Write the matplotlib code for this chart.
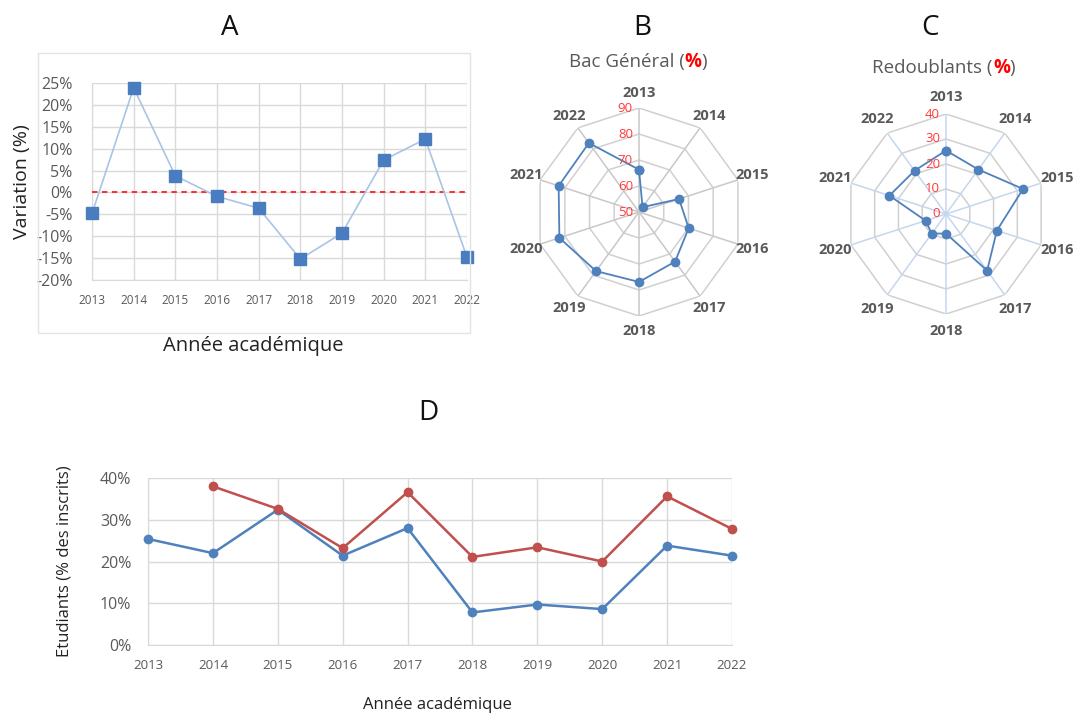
import numpy as np
import matplotlib
matplotlib.use("Agg")
import matplotlib.pyplot as plt
from matplotlib.patches import Rectangle

plt.rcParams['font.family'] = ['Open Sans', 'DejaVu Sans']

years = [2013, 2014, 2015, 2016, 2017, 2018, 2019, 2020, 2021, 2022]
variation = [-4.8, 23.9, 3.8, -0.9, -3.6, -15.2, -9.3, 7.4, 12.2, -14.8]
bac_general = [66.3, 52.3, 66.2, 70.1, 73.6, 76.9, 78.1, 82.2, 82.5, 82.8]
redoublants = [25.4, 22.0, 32.4, 21.4, 28.0, 7.8, 9.7, 8.6, 23.8, 21.4]
d_blue = [25.4, 22.0, 32.4, 21.4, 28.0, 7.8, 9.7, 8.6, 23.8, 21.4]
d_red_years = [2014, 2015, 2016, 2017, 2018, 2019, 2020, 2021, 2022]
d_red = [38.0, 32.6, 23.2, 36.6, 21.1, 23.4, 20.0, 35.6, 27.8]
a_yticks = [-20, -15, -10, -5, 0, 5, 10, 15, 20, 25]
b_rticks = [50, 60, 70, 80, 90]
c_rticks = [0, 10, 20, 30, 40]
d_yticks = [0, 10, 20, 30, 40]

W, H = 1073, 715
fig = plt.figure(figsize=(W / 100, H / 100), dpi=100)
renderer = fig.canvas.get_renderer()

def fx(px):
    return px / W

def fy(py):
    return 1 - py / H

GRID = '#D9D9D9'
TXT = '#595959'
BLUE = '#4F81BD'

# ---------- Panel A ----------
fig.patches.append(Rectangle((fx(38), fy(333)), fx(470) - fx(38), fy(53) - fy(333),
                             transform=fig.transFigure, fill=False, ec='#E3E3E3', lw=1))
axA = fig.add_axes([fx(92), fy(280), fx(467) - fx(92), fy(83) - fy(280)])
axA.plot(years, variation, color='#A9C4E4', lw=1.2, marker='s', ms=8,
         mfc='#4A7DC0', mec='#4A7DC0', clip_on=False, zorder=4)
axA.axhline(0, color='#FF2020', ls='--', lw=1.3, dashes=(3, 2.5), zorder=3)
axA.set_xlim(2013, 2022)
axA.set_ylim(-20, 25)
axA.set_yticks(a_yticks)
axA.set_yticklabels([f'{v}%' for v in a_yticks])
axA.set_xticks(years)
axA.set_xticklabels([str(y) for y in years])
axA.grid(True, color=GRID, lw=1)
axA.set_axisbelow(True)
for s in ['top', 'right']:
    axA.spines[s].set_visible(False)
for s in ['left', 'bottom']:
    axA.spines[s].set_color(GRID)
axA.tick_params(axis='both', length=0, colors=TXT)
axA.tick_params(axis='y', labelsize=11.5, pad=14)
axA.tick_params(axis='x', labelsize=8.5, pad=10)
axA.set_ylabel('Variation (%)', fontsize=14, color='#222222')
axA.yaxis.set_label_coords((31 - 92) / (467 - 92), 0.5)
fig.text(fx(253), fy(346), 'Année académique', fontsize=14.5, color='#222222',
         ha='center', va='center')
fig.text(fx(230), fy(28), 'A', fontsize=20, color='#111111', ha='center', va='center')


def title_pct(cx, cy, left, right, size=13.5):
    parts = [(left, TXT, 'normal'), ('%', '#FF0000', 'bold'), (right, TXT, 'normal')]
    widths = []
    for s, c, w in parts:
        t = fig.text(0, 0, s, fontsize=size, fontweight=w)
        widths.append(t.get_window_extent(renderer).width)
        t.remove()
    total = sum(widths)
    x = cx - total / 2
    for (s, c, w), wd in zip(parts, widths):
        fig.text(fx(x), fy(cy), s, fontsize=size, color=c, fontweight=w,
                 ha='left', va='center')
        x += wd


# ---------- Radar helper ----------
def radar(cx, cy, R, values, rticks, spoke_color, lab_r):
    ax = fig.add_axes([fx(cx - R), fy(cy + R), 2 * R / W, 2 * R / H], projection='polar')
    n = len(years)
    theta = np.linspace(0, 2 * np.pi, n, endpoint=False)
    ax.set_theta_zero_location('N')
    ax.set_theta_direction(-1)
    rmin, rmax = rticks[0], rticks[-1]
    ax.set_ylim(rmin, rmax)
    ax.grid(False)
    ax.spines['polar'].set_visible(False)
    ax.set_xticks([])
    ax.set_yticks([])
    ax.patch.set_alpha(0)
    tc = np.append(theta, theta[0])
    for r in rticks[1:]:
        ax.plot(tc, [r] * len(tc), color='#D0D0D0', lw=1.1, zorder=1)
    for t in theta:
        ax.plot([t, t], [rmin, rmax], color=spoke_color, lw=1.1, zorder=1)
    vals = list(values) + [values[0]]
    ax.plot(tc, vals, color=BLUE, lw=1.3, marker='o', ms=6, mfc=BLUE, mec=BLUE, zorder=3)
    for t, y in zip(theta, years):
        ax.text(t, rmin + (rmax - rmin) * lab_r, str(y), ha='center', va='center',
                fontsize=10.5, fontweight='bold', color=TXT)
    for r in rticks:
        frac = (r - rmin) / (rmax - rmin)
        py = cy - frac * R
        fig.text(fx(cx - 6), fy(py), str(r), fontsize=9.5, color='#FF3B3B',
                 ha='right', va='center')
    return ax

radar(639, 212, 104, bac_general, b_rticks, '#C8C8C8', 1.14)
title_pct(638, 62, 'Bac Général (', ')')
fig.text(fx(642), fy(28), 'B', fontsize=20, color='#111111', ha='center', va='center')
radar(946, 214, 100, redoublants, c_rticks, '#C5D7EE', 1.17)
title_pct(944, 68, 'Redoublants (', ')')
fig.text(fx(930), fy(28), 'C', fontsize=20, color='#111111', ha='center', va='center')

# ---------- Panel D ----------
axD = fig.add_axes([fx(148), fy(645), fx(732) - fx(148), fy(478) - fy(645)])
axD.plot(years, d_blue, color=BLUE, lw=1.8, marker='o', ms=6, clip_on=False, zorder=4)
axD.plot(d_red_years, d_red, color='#C0504D', lw=1.8, marker='o', ms=6, clip_on=False, zorder=4)
axD.set_xlim(2013, 2022)
axD.set_ylim(0, 40)
axD.set_yticks(d_yticks)
axD.set_yticklabels([f'{v}%' for v in d_yticks])
axD.set_xticks(years)
axD.set_xticklabels([str(y) for y in years])
axD.grid(True, color=GRID, lw=1)
axD.set_axisbelow(True)
for s in ['top', 'right']:
    axD.spines[s].set_visible(False)
for s in ['left', 'bottom']:
    axD.spines[s].set_color(GRID)
axD.tick_params(axis='both', length=0, colors=TXT)
axD.tick_params(axis='y', labelsize=11.5, pad=12)
axD.tick_params(axis='x', labelsize=9.5, pad=10)
axD.set_ylabel('Etudiants (% des inscrits)', fontsize=12, color='#222222')
axD.yaxis.set_label_coords((73 - 148) / (732 - 148), 0.5)
fig.text(fx(437), fy(705), 'Année académique', fontsize=12, color='#222222',
         ha='center', va='center')
fig.text(fx(428), fy(413), 'D', fontsize=20, color='#111111', ha='center', va='center')

fig.savefig('out.png', dpi=100)
